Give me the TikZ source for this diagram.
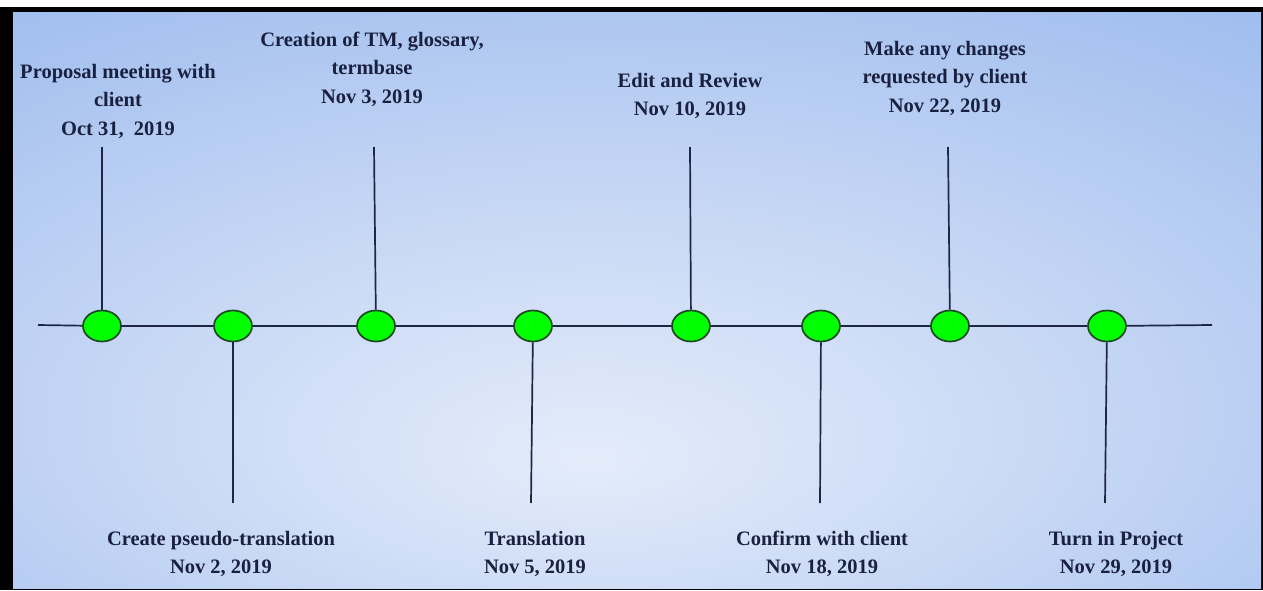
\documentclass[tikz,border=0pt]{standalone}
\usepackage{fontspec}
\setmainfont{Liberation Serif}
\usetikzlibrary{shapes.geometric}
\definecolor{bgin}{HTML}{E4ECFA}
\definecolor{bgmid}{HTML}{C2D4F4}
\definecolor{bgedge}{HTML}{93B5EC}
\definecolor{bgout}{HTML}{7AA1E5}
\definecolor{ink}{HTML}{1A2040}
\definecolor{lineink}{HTML}{1D2744}
\definecolor{dotfill}{HTML}{00FF00}
\definecolor{dotline}{HTML}{1A4A22}
\pgfdeclareradialshading{bgshade}{\pgfpoint{-2bp}{-14bp}}{color(0bp)=(bgin); color(22bp)=(bgmid); color(48bp)=(bgedge); color(80bp)=(bgout)}
\tikzset{
  dot/.style={ellipse, draw=dotline, line width=1.7pt, fill=dotfill, minimum width=38pt, minimum height=31pt, inner sep=0pt},
  tline/.style={draw=lineink, line width=1.7pt},
  lbl/.style={text=ink, font=\fontsize{20.5pt}{28.5pt}\selectfont\bfseries, align=center, inner sep=0pt}
}
\begin{document}
\begin{tikzpicture}[x=1pt,y=1pt]
\useasboundingbox (0,0) rectangle (1263,590);
\fill[white] (0,0) rectangle (1263,590);
\fill[black] (0,0) rectangle (1263,583);
\shade[shading=bgshade] (13,2) rectangle (1261,577);
% timeline nodes
\coordinate (L) at (38,265);
\coordinate (R) at (1212,265);
\node[dot] (e1) at (102,264) {};
\node[dot] (e2) at (233,264) {};
\node[dot] (e3) at (376,264) {};
\node[dot] (e4) at (533,264) {};
\node[dot] (e5) at (691,264) {};
\node[dot] (e6) at (821,264) {};
\node[dot] (e7) at (950,264) {};
\node[dot] (e8) at (1107,264) {};
\draw[tline] (L) -- (e1) -- (e2) -- (e3) -- (e4) -- (e5) -- (e6) -- (e7) -- (e8) -- (R);
% stems
\coordinate (u1) at (102,443);
\coordinate (u3) at (374,443);
\coordinate (u5) at (690,443);
\coordinate (u7) at (948,443);
\coordinate (d2) at (233,87);
\coordinate (d4) at (531,87);
\coordinate (d6) at (820,87);
\coordinate (d8) at (1105,87);
\draw[tline] (e1) -- (u1);
\draw[tline] (e3) -- (u3);
\draw[tline] (e5) -- (u5);
\draw[tline] (e7) -- (u7);
\draw[tline] (e2) -- (d2);
\draw[tline] (e4) -- (d4);
\draw[tline] (e6) -- (d6);
\draw[tline] (e8) -- (d8);
% labels
\node[lbl] (t1) at (118,489) {Proposal meeting with\\client\\Oct 31,\ \ 2019};
\node[lbl] (t3) at (372,521) {Creation of TM, glossary,\\termbase\\Nov 3, 2019};
\node[lbl] (t5) at (690,494) {Edit and Review\\Nov 10, 2019};
\node[lbl] (t7) at (945,512) {Make any changes\\requested by client\\Nov 22, 2019};
\node[lbl] (b2) at (221,36) {Create pseudo-translation\\Nov 2, 2019};
\node[lbl] (b4) at (535,36) {Translation\\Nov 5, 2019};
\node[lbl] (b6) at (822,36) {Confirm with client\\Nov 18, 2019};
\node[lbl] (b8) at (1116,36) {Turn in Project\\Nov 29, 2019};
\end{tikzpicture}
\end{document}
